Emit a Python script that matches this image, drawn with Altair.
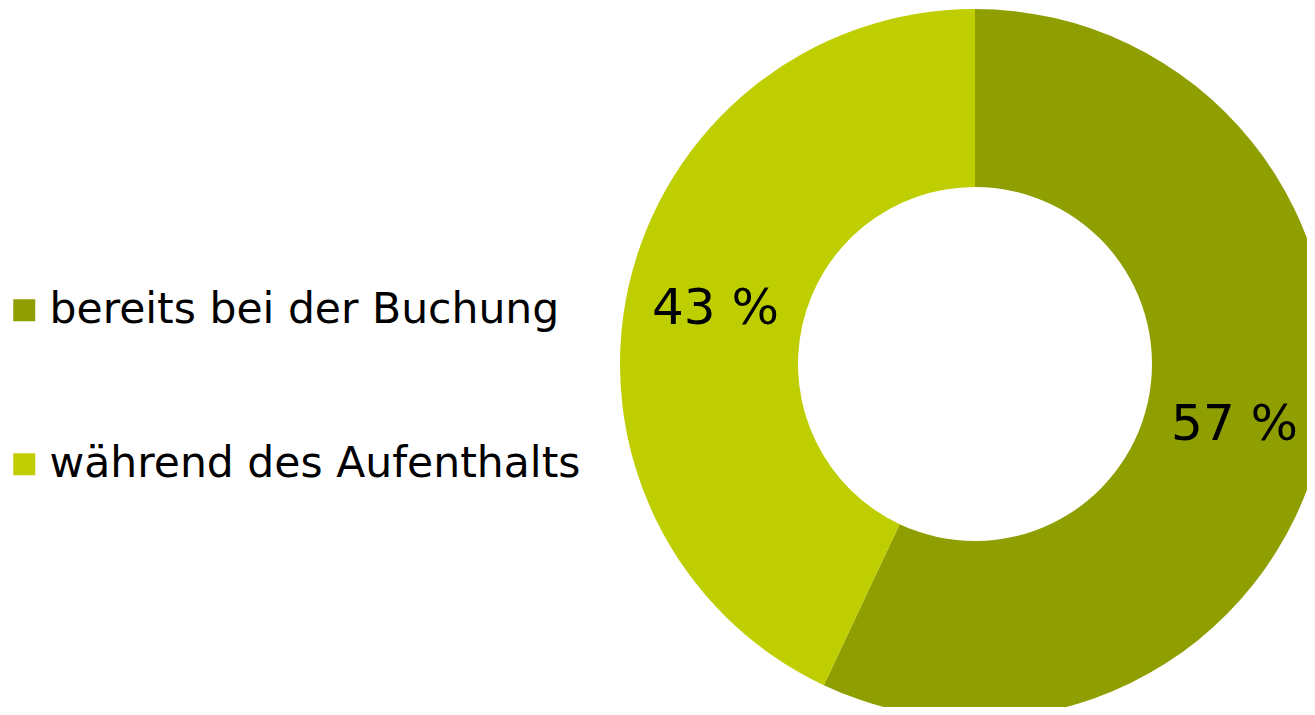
import altair as alt
import pandas as pd

categories = ["bereits bei der Buchung", "während des Aufenthalts"]
values = [57, 43]
labels = ["57 %", "43 %"]
colors = ["#8F9E00", "#BFCE00"]

df = pd.DataFrame({"cat": categories, "val": values, "label": labels, "ord": [0, 1]})

base = alt.Chart(df).encode(
    theta=alt.Theta("val:Q", stack=True),
    order=alt.Order("ord:Q"),
)

arcs = base.mark_arc(radius=355, radius2=177, stroke=None).encode(
    x=alt.value(967),
    y=alt.value(356),
    color=alt.Color(
        "cat:N",
        scale=alt.Scale(domain=categories, range=colors),
        sort=categories,
        legend=alt.Legend(
            title=None,
            orient="none",
            legendX=-5,
            legendY=281,
            symbolType="square",
            symbolSize=484,
            symbolStrokeWidth=0,
            labelFontSize=42.5,
            labelFont="DejaVu Sans",
            labelColor="#000000",
            labelOffset=4,
            rowPadding=111,
            labelLimit=800,
        ),
    ),
)

text = base.mark_text(radius=266, fontSize=50, dy=3, font="DejaVu Sans", color="#000000").encode(
    x=alt.value(967),
    y=alt.value(356),
    text="label:N",
)

chart = (
    alt.layer(arcs, text)
    .properties(width=1299, height=699, padding=0, autosize=alt.AutoSizeParams(type="none"))
    .configure_view(stroke=None)
)

chart.save("out.html", embed_options={"renderer": "svg", "actions": False})
